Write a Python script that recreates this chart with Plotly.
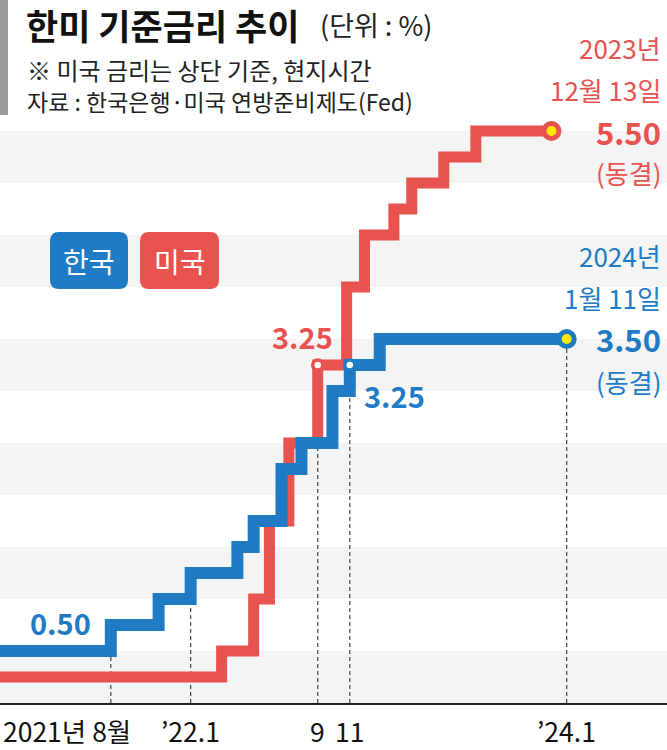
import plotly.graph_objects as go

# ---------------- data ----------------
kr_dates = ["2021-01-01", "2021-08-26", "2021-11-25", "2022-01-25", "2022-04-24",
            "2022-05-25", "2022-07-17", "2022-08-24", "2022-10-22", "2022-11-24",
            "2023-01-20", "2024-01-11"]
kr_rates = [0.50, 0.75, 1.00, 1.25, 1.50, 1.75, 2.25, 2.50, 3.00, 3.25, 3.50, 3.50]

us_dates = ["2021-01-01", "2022-03-25", "2022-05-25", "2022-06-24", "2022-07-31",
            "2022-09-24", "2022-11-18", "2022-12-22", "2023-02-16", "2023-03-22",
            "2023-05-22", "2023-07-22", "2023-12-13"]
us_rates = [0.25, 0.50, 1.00, 1.75, 2.50, 3.25, 4.00, 4.50, 4.75, 5.00, 5.25, 5.50, 5.50]

guide_dates = ["2021-08-26", "2022-01-25", "2022-09-24", "2022-11-24", "2024-01-11"]
guide_series = ["kr", "kr", "us", "kr", "kr"]
tick_labels = ["2021년 8월", "’22.1", "9", "11", "’24.1"]

band_lows = [0.0, 1.0, 2.0, 3.0, 4.0, 5.0]   # light-gray bands, 0.5 %p tall

# ---------------- styling / layout helpers ----------------
W, H = 667, 750
PLOT_BOTTOM = 703
PX_PER_PCT = 104
RED = "#E8524F"
BLUE = "#1F7BC4"
YELLOW = "#FFE800"
FONT = "Noto Sans CJK KR"


def px(x):
    return x / W


def py(y):
    return (PLOT_BOTTOM - y) / PLOT_BOTTOM


def value_at(dates, rates, d):
    v = rates[0]
    for dd, rr in zip(dates, rates):
        if dd <= d:
            v = rr
    return v


fig = go.Figure()

# US (red) line
fig.add_trace(go.Scatter(x=us_dates, y=us_rates, mode="lines", line_shape="hv",
                         line=dict(color=RED, width=11), hoverinfo="skip",
                         showlegend=False))
fig.add_trace(go.Scatter(x=[us_dates[5]], y=[us_rates[5]], mode="markers",
                         marker=dict(size=10, color="white", line=dict(color=RED, width=3.5)),
                         showlegend=False, hoverinfo="skip"))
fig.add_trace(go.Scatter(x=[us_dates[-1]], y=[us_rates[-1]], mode="markers",
                         marker=dict(size=15, color=YELLOW, line=dict(color=RED, width=5)),
                         showlegend=False, hoverinfo="skip"))

# Korea (blue) line
fig.add_trace(go.Scatter(x=kr_dates, y=kr_rates, mode="lines", line_shape="hv",
                         line=dict(color=BLUE, width=12), hoverinfo="skip",
                         showlegend=False))
fig.add_trace(go.Scatter(x=[kr_dates[9]], y=[kr_rates[9]], mode="markers",
                         marker=dict(size=10, color="white", line=dict(color=BLUE, width=3.5)),
                         showlegend=False, hoverinfo="skip"))
fig.add_trace(go.Scatter(x=[kr_dates[-1]], y=[kr_rates[-1]], mode="markers",
                         marker=dict(size=15, color=YELLOW, line=dict(color=BLUE, width=5)),
                         showlegend=False, hoverinfo="skip"))

shapes = []
# decorative gray bar at top-left
shapes.append(dict(type="rect", xref="paper", yref="paper", x0=0, x1=px(8),
                   y0=py(115), y1=py(0), fillcolor="#9B9B9B", line=dict(width=0)))
# background bands
for lo in band_lows:
    shapes.append(dict(type="rect", xref="paper", yref="y", x0=0, x1=1, y0=lo, y1=lo + 0.5,
                       fillcolor="#F4F4F4", line=dict(width=0), layer="below"))
# dashed guides
for d, s in zip(guide_dates, guide_series):
    top = value_at(kr_dates, kr_rates, d) if s == "kr" else value_at(us_dates, us_rates, d)
    shapes.append(dict(type="line", xref="x", yref="y", x0=d, x1=d, y0=0, y1=top,
                       line=dict(color="#444444", width=1.2, dash="4px,3px"), layer="below"))


def rounded_rect(x0, y0, x1, y1, r):
    pts = [
        ("M", [(x0 + r, y0)]), ("L", [(x1 - r, y0)]), ("Q", [(x1, y0), (x1, y0 + r)]),
        ("L", [(x1, y1 - r)]), ("Q", [(x1, y1), (x1 - r, y1)]),
        ("L", [(x0 + r, y1)]), ("Q", [(x0, y1), (x0, y1 - r)]),
        ("L", [(x0, y0 + r)]), ("Q", [(x0, y0), (x0 + r, y0)]),
    ]
    out = ""
    for cmd, ps in pts:
        out += cmd + " " + " ".join(f"{px(a):.5f},{py(b):.5f}" for a, b in ps) + " "
    return out + "Z"


shapes.append(dict(type="path", xref="paper", yref="paper",
                   path=rounded_rect(50, 232, 128, 289, 9), fillcolor=BLUE, line=dict(width=0)))
shapes.append(dict(type="path", xref="paper", yref="paper",
                   path=rounded_rect(140, 232, 219, 289, 9), fillcolor=RED, line=dict(width=0)))

ann = []


def txt(x, y, text, size, color, xanchor="center", bold=False):
    ann.append(dict(xref="paper", yref="paper", x=px(x), y=py(y), xanchor=xanchor,
                    yanchor="middle", text=f"<b>{text}</b>" if bold else text,
                    showarrow=False, font=dict(size=size, color=color, family=FONT)))


# title block
txt(24, 25, "한미 기준금리 추이", 35, "#111111", xanchor="left", bold=True)
txt(318, 25, "(단위 : %)", 27, "#222222", xanchor="left")
txt(25, 69, "※ 미국 금리는 상단 기준, 현지시간", 24, "#222222", xanchor="left")
txt(25, 101, "자료 : 한국은행·미국 연방준비제도(Fed)", 23, "#222222", xanchor="left")

# legend
txt(89, 261, "한국", 28, "white")
txt(179.5, 261, "미국", 28, "white")

# right-side notes
txt(663, 48, "2023년", 26, RED, xanchor="right")
txt(663, 90, "12월 13일", 26, RED, xanchor="right")
txt(663, 131, f"{us_rates[-1]:.2f}", 31, RED, xanchor="right", bold=True)
txt(663, 173, "(동결)", 26, RED, xanchor="right")

txt(663, 255, "2024년", 26, BLUE, xanchor="right")
txt(663, 297, "1월 11일", 26, BLUE, xanchor="right")
txt(663, 339, f"{kr_rates[-1]:.2f}", 31, BLUE, xanchor="right", bold=True)
txt(663, 381, "(동결)", 26, BLUE, xanchor="right")

# value labels
txt(60, 622, f"{kr_rates[0]:.2f}", 29, BLUE, bold=True)
txt(302, 336, f"{us_rates[5]:.2f}", 29, RED, bold=True)
txt(394, 395, f"{kr_rates[9]:.2f}", 29, BLUE, bold=True)

# x labels
for i, (d, lab) in enumerate(zip(guide_dates, tick_labels)):
    if i == 0:
        ann.append(dict(xref="paper", yref="paper", x=px(1), y=py(730), xanchor="left",
                        yanchor="middle", text=lab, showarrow=False,
                        font=dict(size=26.5, color="#111111", family=FONT)))
    else:
        ann.append(dict(xref="x", yref="paper", x=d, y=py(730), xanchor="center",
                        yanchor="middle", text=lab, showarrow=False,
                        font=dict(size=26.5, color="#111111", family=FONT)))

fig.update_layout(
    width=W, height=H,
    margin=dict(l=0, r=0, t=0, b=H - PLOT_BOTTOM, pad=0),
    paper_bgcolor="white", plot_bgcolor="white",
    font=dict(family=FONT),
    showlegend=False,
    shapes=shapes, annotations=ann,
    xaxis=dict(type="date", range=["2021-01-27", "2024-07-20"], showgrid=False,
               zeroline=False, showticklabels=False, ticks="", showline=True,
               linecolor="#222222", linewidth=2, fixedrange=True),
    yaxis=dict(range=[0, PLOT_BOTTOM / PX_PER_PCT], showgrid=False, zeroline=False,
               showticklabels=False, ticks="", showline=False, fixedrange=True),
)

fig.write_html("out.html", config={"displayModeBar": False},
               post_script="document.body.style.margin='0';document.body.style.padding='0';"
                           "document.body.style.overflow='hidden';")
